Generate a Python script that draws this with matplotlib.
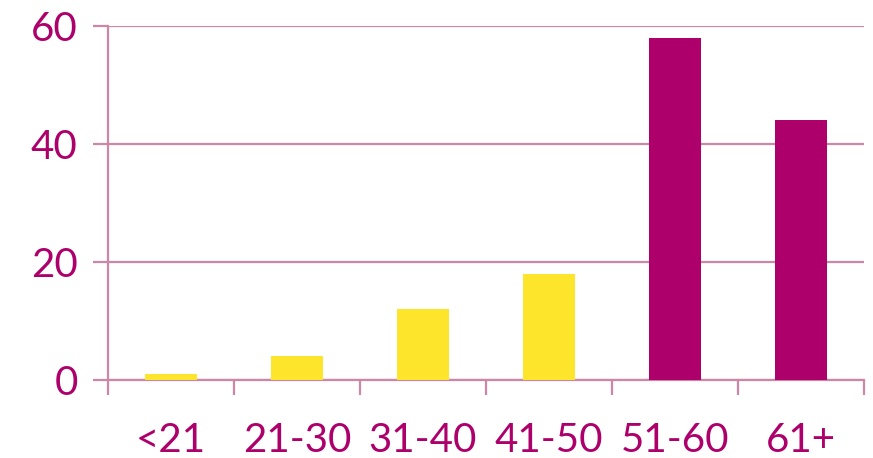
import matplotlib
matplotlib.use("Agg")
import matplotlib.pyplot as plt
import numpy as np

categories = ["<21", "21-30", "31-40", "41-50", "51-60", "61+"]
values = [1, 4, 12, 18, 58, 44]
bar_colors = ["#FDE52B", "#FDE52B", "#FDE52B", "#FDE52B", "#AD006B", "#AD006B"]
y_ticks = [0, 20, 40, 60]

text_color = "#AD006B"
grid_color = "#CC86A6"

plt.rcParams['font.family'] = ['Lato', 'DejaVu Sans']

fig = plt.figure(figsize=(8.73, 4.58), dpi=100)
W, H = 873, 458
ax = fig.add_axes([108 / W, 78 / H, (864 - 108) / W, (380 - 26) / H])

x = np.arange(len(categories))
ax.bar(x, values, width=0.405, color=bar_colors, zorder=3)

ax.set_xlim(-0.5, len(categories) - 0.5)
ax.set_ylim(0, 60)
ax.set_yticks(y_ticks)
ax.set_yticklabels([str(v) for v in y_ticks])
ax.yaxis.grid(True, color=grid_color, linewidth=1.6, zorder=0)
ax.set_axisbelow(True)

ax.set_xticks(x)
ax.set_xticklabels(categories)
ax.set_xticks(np.arange(-0.5, len(categories)), minor=True)

for s in ["top", "right"]:
    ax.spines[s].set_visible(False)
for s in ["left", "bottom"]:
    ax.spines[s].set_color(grid_color)
    ax.spines[s].set_linewidth(1.6)

ax.tick_params(axis="y", which="major", length=10.8, width=1.6, color=grid_color,
               labelcolor=text_color, labelsize=29, pad=11)
ax.tick_params(axis="x", which="major", length=0, labelcolor=text_color,
               labelsize=29, pad=30)
ax.tick_params(axis="x", which="minor", length=10.8, width=1.6, color=grid_color)

fig.savefig("out.png", dpi=100)
